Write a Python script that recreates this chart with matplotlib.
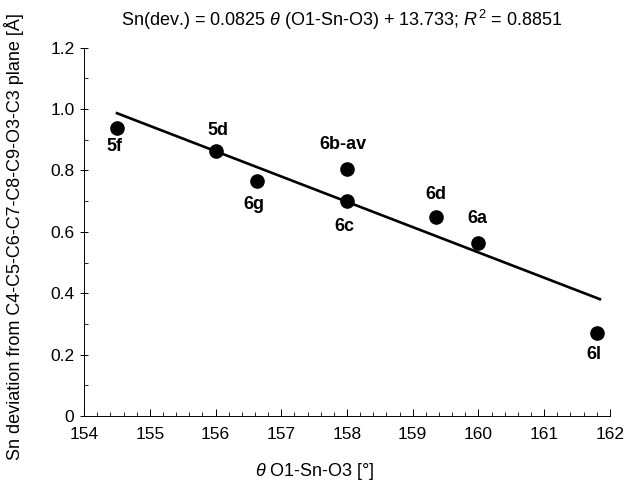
import matplotlib
matplotlib.use('Agg')
from matplotlib import pyplot as plt
from matplotlib.ticker import MultipleLocator
import numpy as np

plt.rcParams['font.family'] = ['Liberation Sans', 'DejaVu Sans']
plt.rcParams['mathtext.fontset'] = 'custom'
plt.rcParams['mathtext.rm'] = 'Liberation Sans'
plt.rcParams['mathtext.it'] = 'Liberation Sans:italic'

# compounds, angle (deg) and Sn deviation (A)
labels = ['5f', '5d', '6g', '6b-av', '6c', '6d', '6a', '6l']
theta = [154.5, 156.0, 156.63, 158.0, 158.0, 159.36, 160.0, 161.8]
sn_dev = [0.938, 0.863, 0.765, 0.804, 0.699, 0.650, 0.565, 0.271]
# label offsets in points (dx, dy)
offsets = [(-2, -13), (2, 15), (-2, -17), (-3, 18), (-2, -18), (0, 16), (-1, 17), (-2, -16)]

# linear fit as printed
slope = -0.0825
intercept = 13.733
fit_x = np.array([154.5, 161.85])

fig = plt.figure(figsize=(6.28, 4.83), dpi=100)
ax = fig.add_axes([0.134, 0.139, 0.837, 0.762])

ax.plot(fit_x, slope * fit_x + intercept, color='black', lw=1.9, zorder=2)
ax.plot(theta, sn_dev, 'o', color='black', ms=9.5, zorder=3)

for lab, x, y, (dx, dy) in zip(labels, theta, sn_dev, offsets):
    ax.annotate(lab, (x, y), xytext=(dx, dy), textcoords='offset points',
                ha='center', va='center', fontsize=13, fontweight='bold')

ax.set_xlim(154, 162)
ax.set_ylim(0, 1.2)
ax.xaxis.set_major_locator(MultipleLocator(1))
ax.xaxis.set_minor_locator(MultipleLocator(0.2))
ax.yaxis.set_minor_locator(MultipleLocator(0.1))
ax.set_yticks([0, 0.2, 0.4, 0.6, 0.8, 1.0, 1.2])
ax.set_yticklabels(['0', '0.2', '0.4', '0.6', '0.8', '1.0', '1.2'])

ax.spines['top'].set_visible(False)
ax.spines['right'].set_visible(False)
ax.spines['left'].set_linewidth(0.7)
ax.spines['bottom'].set_linewidth(0.7)
ax.tick_params(axis='x', which='major', direction='in', length=5, width=0.7, labelsize=12.5, pad=8)
ax.tick_params(axis='x', which='minor', direction='in', length=3, width=0.6)
ax.tick_params(axis='y', which='major', direction='inout', length=6, width=0.7, labelsize=12.5, pad=4)
ax.tick_params(axis='y', which='minor', direction='in', length=3, width=0.6)

fig.text(315 / 628, 1 - 472 / 483, r'$\theta$ O1-Sn-O3 [°]', fontsize=13,
         ha='center', va='center')
fig.text(14 / 628, 1 - 237 / 483, 'Sn deviation from C4-C5-C6-C7-C8-C9-O3-C3 plane [Å]',
         fontsize=13, rotation=90, ha='center', va='center')
fig.text(342 / 628, 1 - 20 / 483,
         r'Sn(dev.) = 0.0825 $\theta$ (O1-Sn-O3) + 13.733; $R^2$ = 0.8851',
         fontsize=13, ha='center', va='center')

fig.savefig('out.png', dpi=100)
